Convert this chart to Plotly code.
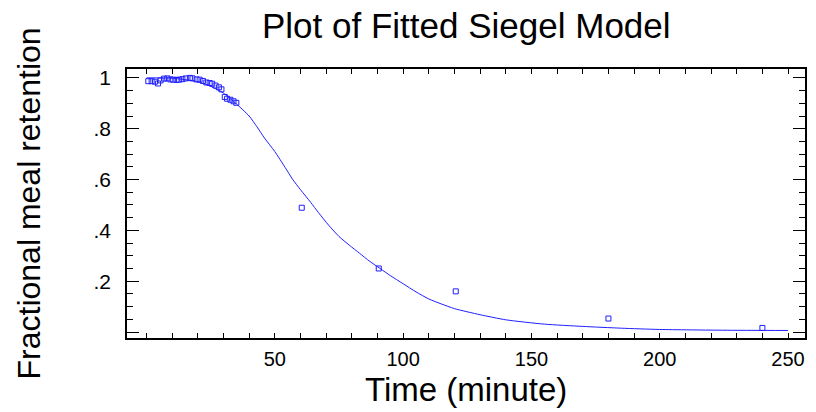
import plotly.graph_objects as go

# Observed data (time in minutes, fractional meal retention)
obs_time = [0.7, 2.0, 3.3, 4.5, 5.5, 6.8, 8.1, 9.3, 10.4, 11.7, 12.7, 14.0, 15.3, 16.9,
            17.9, 19.5, 20.7, 22.0, 23.3, 24.6, 25.6, 26.9, 28.2, 29.2, 30.5, 31.4,
            32.7, 33.9, 35.0, 60.5, 90.5, 120.5, 180.0, 240.0]
obs_value = [0.987, 0.987, 0.985, 0.978, 0.990, 0.997, 0.998, 0.994, 0.993, 0.992, 0.993,
             0.995, 0.998, 1.000, 0.998, 0.994, 0.993, 0.988, 0.982, 0.980, 0.977, 0.970,
             0.963, 0.955, 0.925, 0.918, 0.914, 0.908, 0.902, 0.489, 0.250, 0.160, 0.053,
             0.016]

# Fitted Siegel model curve
fit_time = [0, 10, 20, 25, 30, 35, 40, 43, 46, 50, 54, 57, 60, 64, 67, 71, 75, 79, 83,
            87, 91, 95, 100, 105, 110, 115, 120, 130, 140, 155, 170, 185, 200, 225, 250]
fit_value = [1.0, 0.999, 0.985, 0.967, 0.94, 0.898, 0.85, 0.808, 0.763, 0.71, 0.648,
             0.60, 0.56, 0.51, 0.47, 0.42, 0.376, 0.342, 0.31, 0.278, 0.25, 0.222, 0.19,
             0.158, 0.13, 0.11, 0.092, 0.068, 0.048, 0.031, 0.022, 0.015, 0.010, 0.007,
             0.006]

x_tickvals = [0, 50, 100, 150, 200, 250]
x_ticktext = ["", "50", "100", "150", "200", "250"]
y_tickvals = [0, 0.2, 0.4, 0.6, 0.8, 1.0]
y_ticktext = ["", ".2", ".4", ".6", ".8", "1"]

BLUE = "#1f1fff"
FONT = "Liberation Sans, Arial, sans-serif"

fig = go.Figure()
fig.add_trace(go.Scatter(x=fit_time, y=fit_value, mode="lines",
                         line=dict(color=BLUE, width=1, shape="spline", smoothing=0.6),
                         showlegend=False))
fig.add_trace(go.Scatter(x=obs_time, y=obs_value, mode="markers",
                         marker=dict(symbol="square-open", size=5, color=BLUE,
                                     line=dict(width=1, color=BLUE)),
                         showlegend=False))

fig.update_layout(
    width=816, height=412,
    margin=dict(l=127, r=9, t=69, b=73.5),
    paper_bgcolor="white", plot_bgcolor="white",
    font=dict(family=FONT, color="black"),
    annotations=[
        dict(text="Plot of Fitted Siegel Model", xref="paper", yref="paper",
             x=0.5, y=1, yshift=44, xanchor="center", yanchor="middle",
             showarrow=False, font=dict(size=35, family=FONT, color="black")),
        dict(text="Time (minute)", xref="paper", yref="paper",
             x=0.5, y=0, yshift=-51, xanchor="center", yanchor="middle",
             showarrow=False, font=dict(size=33, family=FONT, color="black")),
        dict(text="Fractional meal retention", xref="paper", yref="paper",
             x=0, xshift=-99, y=0.5, xanchor="center", yanchor="middle",
             textangle=-90, showarrow=False,
             font=dict(size=32, family=FONT, color="black")),
    ],
)

fig.update_xaxes(range=[-7.6, 256.6], tickvals=x_tickvals, ticktext=x_ticktext,
                 ticks="inside", ticklen=5, tickwidth=1.3, tickcolor="black",
                 showline=True, linecolor="black", linewidth=1.5, mirror="allticks",
                 showgrid=False, zeroline=False, ticklabelstandoff=2,
                 tickfont=dict(size=20, family=FONT, color="black"),
                 minor=dict(dtick=10, tick0=0, ticks="inside", ticklen=5,
                            tickwidth=1.3, tickcolor="black", showgrid=False))
fig.update_yaxes(range=[-0.0236, 1.035], tickvals=y_tickvals, ticktext=y_ticktext,
                 ticks="inside", ticklen=12, tickwidth=1.3, tickcolor="black",
                 showline=True, linecolor="black", linewidth=1.5, mirror="allticks",
                 showgrid=False, zeroline=False, ticklabelstandoff=10,
                 tickfont=dict(size=21, family=FONT, color="black"),
                 minor=dict(dtick=0.05, tick0=0, ticks="inside", ticklen=6,
                            tickwidth=1.3, tickcolor="black", showgrid=False))

fig.write_html("out.html")
